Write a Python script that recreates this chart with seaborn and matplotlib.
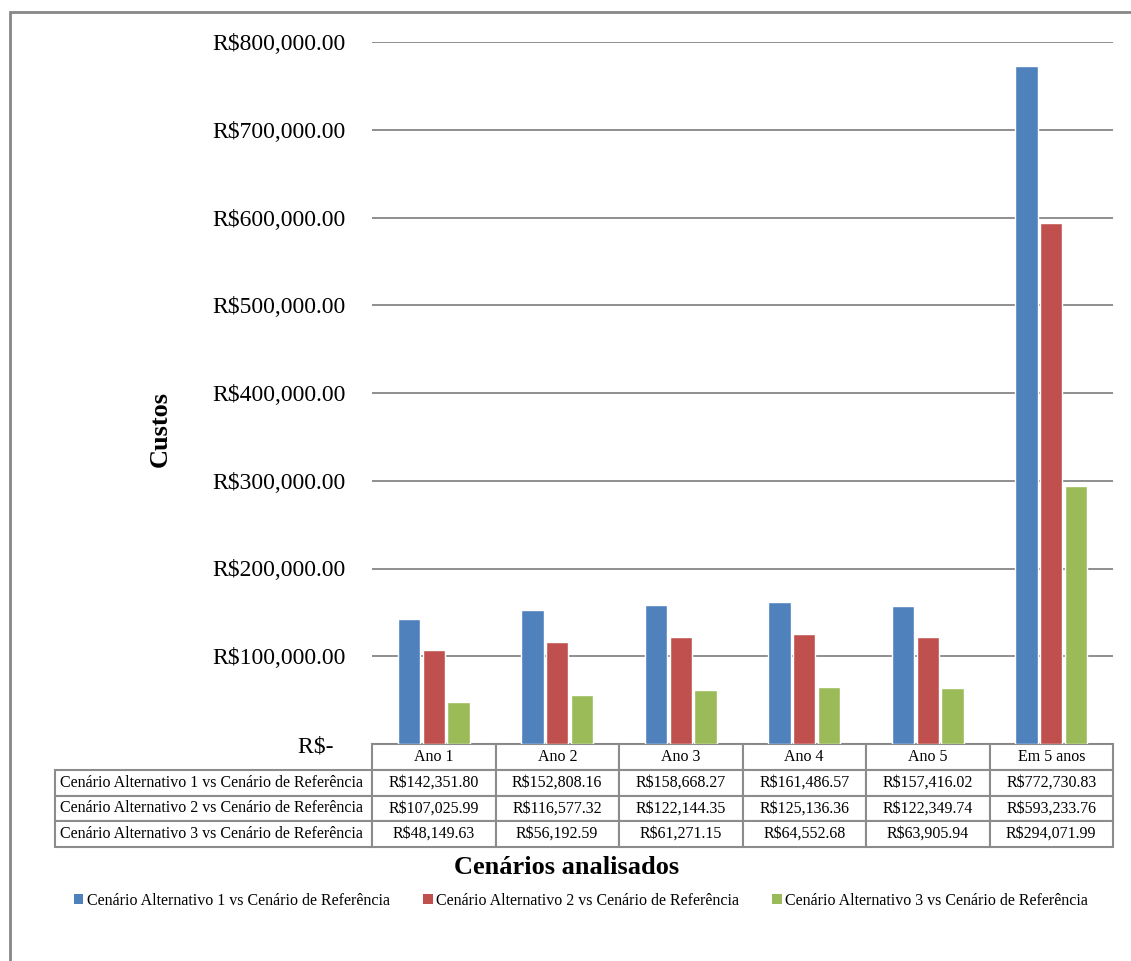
import matplotlib
matplotlib.use("Agg")
import matplotlib.pyplot as plt
import seaborn as sns
import pandas as pd
from matplotlib.patches import Rectangle, Patch
from matplotlib.table import Table

categories = ["Ano 1", "Ano 2", "Ano 3", "Ano 4", "Ano 5", "Em 5 anos"]
series_names = [
    "Cenário Alternativo 1 vs Cenário de Referência",
    "Cenário Alternativo 2 vs Cenário de Referência",
    "Cenário Alternativo 3 vs Cenário de Referência",
]
alt1 = [142351.80, 152808.16, 158668.27, 161486.57, 157416.02, 772730.83]
alt2 = [107025.99, 116577.32, 122144.35, 125136.36, 122349.74, 593233.76]
alt3 = [48149.63, 56192.59, 61271.15, 64552.68, 63905.94, 294071.99]
colors = ["#4F81BD", "#C0504D", "#9BBB59"]
y_ticks = [0, 100000, 200000, 300000, 400000, 500000, 600000, 700000, 800000]

sns.set_style("white")
FONT = ["Liberation Serif", "DejaVu Serif"]
plt.rcParams["font.family"] = FONT
plt.rcParams["text.color"] = "black"
plt.rcParams["ytick.color"] = "black"
plt.rcParams["xtick.color"] = "black"
plt.rcParams["axes.labelcolor"] = "black"

rows = []
for name, vals in zip(series_names, [alt1, alt2, alt3]):
    for c, v in zip(categories, vals):
        rows.append({"Categoria": c, "Série": name, "Valor": v})
df = pd.DataFrame(rows)

W, H = 1131, 961
fig = plt.figure(figsize=(W / 100, H / 100), dpi=100)
ax = fig.add_axes([372 / W, 1 - 744 / H, (1113 - 372) / W, (744 - 42) / H])

sns.barplot(data=df, x="Categoria", y="Valor", hue="Série", order=categories,
            hue_order=series_names, palette=colors, width=0.6, gap=0.1,
            saturation=1, ax=ax, legend=False, zorder=3)

ax.set_ylim(0, 800000)
ax.set_xlim(-0.5, 5.5)
ax.set_yticks(y_ticks)

def fmt(v):
    if v == 0:
        return "R$-  "
    return "R$" + f"{v:,.2f}"

ax.set_yticklabels([fmt(v) for v in y_ticks], fontsize=17, color="black",
                   family=FONT)
ax.tick_params(axis="y", length=0, pad=19)
ax.set_xticks([])
ax.set_xlabel("")
ax.set_ylabel("")
ax.grid(axis="y", color="#868686", linewidth=1.3, zorder=0)
ax.set_axisbelow(True)
for s in ax.spines.values():
    s.set_visible(False)

# data table (bbox covers the value grid; the row-label column sits to its left)
row_w = (372 - 55) / (1113 - 372)
tbl_h = (847 - 744) / (744 - 42)
col_w = 1 / 6
row_h = tbl_h / 4
table = Table(ax, bbox=[0, -tbl_h, 1, tbl_h])
for j, cat in enumerate(categories):
    table.add_cell(0, j, col_w, row_h, text=cat, loc="center")
for i, (name, vals) in enumerate(zip(series_names, [alt1, alt2, alt3]), start=1):
    cell = table.add_cell(i, -1, row_w, row_h, text=name, loc="left")
    cell.PAD = 0.015
    for j, v in enumerate(vals):
        table.add_cell(i, j, col_w, row_h, text="R$" + f"{v:,.2f}", loc="center")
table.auto_set_font_size(False)
table.set_fontsize(11.5)
for (r, c), cell in table.get_celld().items():
    cell.set_edgecolor("#8c8c8c")
    cell.set_linewidth(1.5)
    cell.set_facecolor("white")
    cell.get_text().set_color("black")
    cell.get_text().set_family(FONT)
ax.add_table(table)

# labels
fig.text(160 / W, 1 - 429 / H, "Custos", rotation=90, fontsize=19,
         fontweight="bold", ha="center", va="center", color="black", family=FONT)
fig.text(567 / W, 1 - 868 / H, "Cenários analisados", fontsize=19,
         fontweight="bold", ha="center", va="center", color="black", family=FONT)

handles = [Patch(facecolor=c, edgecolor="none") for c in colors]
fig.legend(handles, series_names, loc="center", ncol=3,
           bbox_to_anchor=(581 / W, 1 - 901 / H), frameon=False,
           prop={"family": FONT, "size": 11.5}, handlelength=0.6,
           handleheight=0.6, handletextpad=0.2, columnspacing=2.1)

# outer frame
fig.patches.append(Rectangle((10 / W, -0.1), 1.2, 1 - 12 / H + 0.1,
                             transform=fig.transFigure, fill=False,
                             edgecolor="#878787", linewidth=2))

fig.savefig("out.png", dpi=100)
